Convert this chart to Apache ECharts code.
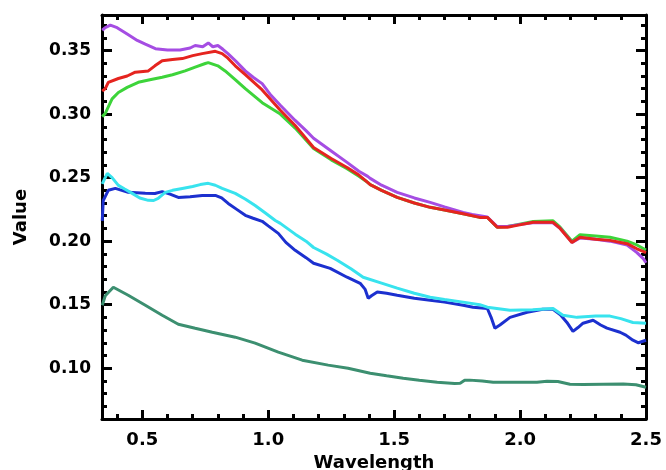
<!DOCTYPE html>
<html>
<head>
<meta charset="utf-8">
<script src="https://cdn.jsdelivr.net/npm/echarts@6/dist/echarts.min.js"></script>
<style>html,body{margin:0;padding:0;background:#fff}#c{width:666px;height:470px}</style>
</head>
<body>
<div id="c"></div>
<script>
// ---- data (wavelength, value) ----
const xMajorTicks = [0.5, 1.0, 1.5, 2.0, 2.5];
const yMajorTicks = [0.10, 0.15, 0.20, 0.25, 0.30, 0.35];
const xMinorTicks = [0.4,0.6,0.7,0.8,0.9,1.1,1.2,1.3,1.4,1.6,1.7,1.8,1.9,2.1,2.2,2.3,2.4];
const yMinorTicks = [0.07,0.08,0.09,0.11,0.12,0.13,0.14,0.16,0.17,0.18,0.19,0.21,0.22,0.23,0.24,0.26,0.27,0.28,0.29,0.31,0.32,0.33,0.34,0.36,0.37];

const purple = [[0.341,0.366],[0.353,0.368],[0.373,0.370],[0.40,0.368],[0.44,0.363],[0.48,0.358],[0.512,0.355],[0.552,0.3515],[0.60,0.3505],[0.65,0.3505],[0.69,0.352],[0.71,0.354],[0.74,0.353],[0.762,0.356],[0.78,0.353],[0.80,0.354],[0.82,0.351],[0.84,0.3476],[0.87,0.342],[0.909,0.334],[0.94,0.329],[0.976,0.324],[1.01,0.315],[1.048,0.307],[1.107,0.295],[1.15,0.287],[1.18,0.281],[1.25,0.271],[1.313,0.262],[1.36,0.255],[1.395,0.251],[1.405,0.2494],[1.45,0.244],[1.512,0.2384],[1.58,0.234],[1.643,0.2305],[1.70,0.227],[1.774,0.2226],[1.81,0.221],[1.84,0.220],[1.87,0.219],[1.909,0.2115],[1.95,0.2115],[1.988,0.2128],[2.05,0.2145],[2.13,0.2145],[2.16,0.210],[2.206,0.199],[2.238,0.2025],[2.30,0.2015],[2.357,0.200],[2.425,0.197],[2.464,0.191],[2.49,0.186],[2.5,0.183]];
const red = [[0.341,0.318],[0.353,0.320],[0.365,0.325],[0.405,0.328],[0.44,0.330],[0.472,0.333],[0.524,0.334],[0.55,0.338],[0.579,0.342],[0.62,0.343],[0.659,0.3437],[0.70,0.346],[0.738,0.3476],[0.79,0.3494],[0.817,0.3476],[0.84,0.344],[0.869,0.338],[0.909,0.331],[0.976,0.319],[1.048,0.303],[1.107,0.291],[1.18,0.2737],[1.25,0.265],[1.313,0.258],[1.36,0.252],[1.39,0.247],[1.405,0.2445],[1.45,0.240],[1.512,0.2344],[1.58,0.230],[1.643,0.2266],[1.70,0.2245],[1.774,0.2215],[1.84,0.2187],[1.87,0.2187],[1.909,0.211],[1.95,0.211],[1.988,0.2124],[2.052,0.2148],[2.131,0.2148],[2.159,0.210],[2.206,0.199],[2.238,0.203],[2.30,0.2015],[2.357,0.2006],[2.425,0.198],[2.464,0.194],[2.5,0.191]];
const green = [[0.341,0.298],[0.353,0.3005],[0.38,0.312],[0.405,0.317],[0.44,0.321],[0.484,0.325],[0.53,0.327],[0.579,0.329],[0.62,0.331],[0.67,0.334],[0.71,0.337],[0.75,0.3398],[0.762,0.3405],[0.80,0.338],[0.829,0.334],[0.87,0.327],[0.909,0.320],[0.976,0.309],[1.048,0.300],[1.107,0.289],[1.18,0.273],[1.25,0.264],[1.313,0.257],[1.36,0.251],[1.39,0.247],[1.405,0.2445],[1.45,0.240],[1.512,0.2344],[1.58,0.230],[1.643,0.2266],[1.70,0.2245],[1.774,0.2215],[1.84,0.2187],[1.87,0.2187],[1.909,0.211],[1.95,0.2115],[1.988,0.213],[2.052,0.2155],[2.131,0.216],[2.159,0.211],[2.206,0.200],[2.238,0.205],[2.30,0.204],[2.357,0.203],[2.425,0.200],[2.464,0.197],[2.5,0.193]];
const cyan = [[0.341,0.245],[0.361,0.2533],[0.38,0.250],[0.405,0.2439],[0.43,0.241],[0.46,0.2376],[0.49,0.234],[0.524,0.2321],[0.545,0.232],[0.563,0.2337],[0.591,0.2384],[0.62,0.240],[0.659,0.2415],[0.70,0.243],[0.73,0.2445],[0.762,0.2455],[0.79,0.244],[0.817,0.2415],[0.869,0.2376],[0.91,0.233],[0.948,0.228],[0.99,0.222],[1.028,0.2163],[1.048,0.214],[1.107,0.2055],[1.15,0.200],[1.18,0.195],[1.23,0.190],[1.274,0.185],[1.33,0.178],[1.377,0.1716],[1.45,0.167],[1.512,0.163],[1.58,0.159],[1.643,0.1558],[1.70,0.154],[1.774,0.152],[1.84,0.150],[1.87,0.148],[1.96,0.1456],[2.05,0.146],[2.131,0.147],[2.17,0.1417],[2.226,0.140],[2.30,0.141],[2.357,0.141],[2.40,0.139],[2.448,0.136],[2.5,0.1354]];
const blue = [[0.341,0.216],[0.345,0.232],[0.365,0.240],[0.393,0.2415],[0.444,0.2384],[0.512,0.2376],[0.55,0.2375],[0.579,0.239],[0.61,0.237],[0.643,0.2344],[0.69,0.235],[0.738,0.236],[0.79,0.236],[0.815,0.234],[0.841,0.2297],[0.875,0.225],[0.909,0.2203],[0.94,0.218],[0.976,0.2156],[1.0,0.212],[1.04,0.2061],[1.07,0.199],[1.107,0.1928],[1.15,0.187],[1.18,0.1826],[1.246,0.1786],[1.313,0.1716],[1.365,0.1668],[1.385,0.162],[1.397,0.155],[1.41,0.157],[1.433,0.160],[1.47,0.159],[1.512,0.1574],[1.58,0.155],[1.643,0.1535],[1.70,0.152],[1.774,0.1495],[1.813,0.148],[1.87,0.147],[1.885,0.140],[1.90,0.1315],[1.92,0.134],[1.96,0.140],[2.028,0.144],[2.09,0.1464],[2.131,0.1464],[2.16,0.142],[2.186,0.136],[2.21,0.129],[2.23,0.132],[2.25,0.1354],[2.29,0.1377],[2.32,0.134],[2.345,0.1315],[2.397,0.1283],[2.42,0.126],[2.448,0.122],[2.47,0.120],[2.5,0.122]];
const teal = [[0.341,0.1495],[0.353,0.157],[0.385,0.1637],[0.444,0.1574],[0.512,0.1495],[0.579,0.1417],[0.643,0.1346],[0.71,0.1314],[0.778,0.1283],[0.869,0.1244],[0.948,0.1197],[1.04,0.1126],[1.135,0.1063],[1.238,0.1024],[1.317,0.100],[1.405,0.096],[1.47,0.094],[1.536,0.092],[1.60,0.0905],[1.671,0.089],[1.74,0.088],[1.762,0.0882],[1.78,0.0905],[1.80,0.0906],[1.85,0.090],[1.893,0.089],[1.95,0.089],[2.067,0.089],[2.107,0.0898],[2.15,0.0895],[2.198,0.0874],[2.25,0.0872],[2.33,0.0874],[2.41,0.0876],[2.46,0.087],[2.5,0.085]];

const seriesDefs = [
  {name:'teal', data: teal, color:'#3C8F70'},
  {name:'blue', data: blue, color:'#1C30CF'},
  {name:'cyan', data: cyan, color:'#38E3EE'},
  {name:'green', data: green, color:'#3DD43A'},
  {name:'purple', data: purple, color:'#A54DE3'},
  {name:'red', data: red, color:'#E5241F'}
];

const X_MIN = 0.34, X_MAX = 2.5, Y_MIN = 0.06, Y_MAX = 0.378;
const FONT = 'DejaVu Sans';
const lineStyle = {color:'#000', width:3};

function xAx(pos, ticks, len, showLine, showLabel, extra) {
  return Object.assign({
    type:'value', position:pos, min:X_MIN, max:X_MAX,
    axisLine:{show:showLine, onZero:false, lineStyle},
    axisTick:{show:true, inside:true, length:len, customValues:ticks, lineStyle:{color:'#000', width:3}},
    axisLabel:{show:showLabel, customValues:ticks, formatter:v=>v.toFixed(1), color:'#000', fontFamily:FONT, fontWeight:'bold', fontSize:18, margin:12},
    splitLine:{show:false}
  }, extra||{});
}
function yAx(pos, ticks, len, showLine, showLabel, extra) {
  return Object.assign({
    type:'value', position:pos, min:Y_MIN, max:Y_MAX,
    axisLine:{show:showLine, onZero:false, lineStyle},
    axisTick:{show:true, inside:true, length:len, customValues:ticks, lineStyle:{color:'#000', width:3}},
    axisLabel:{show:showLabel, customValues:ticks, formatter:v=>v.toFixed(2), color:'#000', fontFamily:FONT, fontWeight:'bold', fontSize:17, margin:11},
    splitLine:{show:false}
  }, extra||{});
}

const chart = echarts.init(document.getElementById('c'), null, {renderer:'canvas'});
chart.setOption({
  animation:false,
  backgroundColor:'#fff',
  grid:{left:102, right:20, top:15, bottom:51, containLabel:false, outerBoundsMode:'none'},
  xAxis:[
    xAx('bottom', xMajorTicks, 9, true, true, {name:'Wavelength', nameLocation:'middle', nameGap:31, nameTextStyle:{color:'#000', fontFamily:FONT, fontWeight:'bold', fontSize:18}}),
    xAx('bottom', xMinorTicks, 5, false, false),
    xAx('top', xMajorTicks, 9, true, false),
    xAx('top', xMinorTicks, 5, false, false)
  ],
  yAxis:[
    yAx('left', yMajorTicks, 10, true, true, {name:'Value', nameLocation:'middle', nameGap:72, nameRotate:90, nameTextStyle:{color:'#000', fontFamily:FONT, fontWeight:'bold', fontSize:18}}),
    yAx('left', yMinorTicks, 5, false, false),
    yAx('right', yMajorTicks, 10, true, false),
    yAx('right', yMinorTicks, 5, false, false)
  ],
  series: seriesDefs.map(s=>({
    type:'line', name:s.name, data:s.data, xAxisIndex:0, yAxisIndex:0,
    showSymbol:false, smooth:false, clip:true,
    lineStyle:{color:s.color, width:3}, itemStyle:{color:s.color}
  }))
});
</script>
</body>
</html>
